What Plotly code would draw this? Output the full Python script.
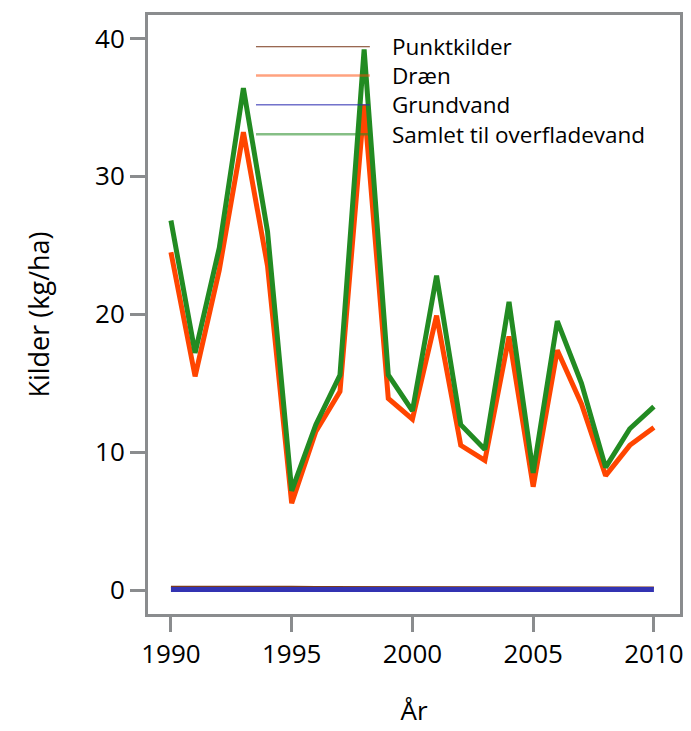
import plotly.graph_objects as go

years = list(range(1990, 2011))

samlet = [26.8, 17.2, 24.8, 36.4, 26.0, 7.2, 12.0, 15.6, 39.2, 15.6, 13.0,
          22.8, 12.0, 10.2, 20.9, 8.5, 19.5, 15.0, 8.9, 11.7, 13.3]
draen = [24.5, 15.5, 23.2, 33.2, 23.5, 6.3, 11.5, 14.4, 35.2, 13.9, 12.4,
         19.9, 10.5, 9.4, 18.4, 7.5, 17.4, 13.5, 8.3, 10.5, 11.8]
punktkilder = [0.25, 0.25, 0.25, 0.25, 0.28, 0.25, 0.22, 0.22, 0.22, 0.22, 0.22,
               0.22, 0.22, 0.2, 0.2, 0.2, 0.22, 0.22, 0.2, 0.2, 0.2]
grundvand = [0.05, 0.05, 0.05, 0.05, 0.06, 0.05, 0.04, 0.03, 0.02, 0.04, 0.05,
             0.05, 0.05, 0.04, 0.04, 0.03, 0.04, 0.04, 0.03, 0.04, 0.04]

series_names = ["Punktkilder", "Dræn", "Grundvand", "Samlet til overfladevand"]

FONT = "Open Sans, Noto Sans, sans-serif"
GRAY = "#8a8c8e"

fig = go.Figure()

# draw order: brown under blue, green on top of orange
traces = [
    (punktkilder, "#7a3a1c", 2),
    (grundvand, "#3333b2", 5),
    (draen, "#ff4500", 5),
    (samlet, "#228b22", 5),
]
for vals, color, w in traces:
    fig.add_trace(
        go.Scatter(
            x=years,
            y=vals,
            mode="lines",
            line=dict(color=color, width=w),
            showlegend=False,
            hoverinfo="skip",
        )
    )

# hand-made legend: short lines + labels in paper coords
legend_style = [
    ("#7a3a1c", 1),
    ("rgba(255,69,0,0.5)", 2.5),
    ("#2a2ab0", 1),
    ("rgba(34,139,34,0.55)", 2.5),
]
legend_y = [0.947, 0.899, 0.850, 0.801]
for name, (color, w), yy in zip(series_names, legend_style, legend_y):
    fig.add_shape(
        type="line", xref="paper", yref="paper",
        x0=0.203, x1=0.417, y0=yy, y1=yy,
        line=dict(color=color, width=w),
    )
    fig.add_annotation(
        x=0.455, y=yy, xref="paper", yref="paper",
        text=name, showarrow=False, xanchor="left", yanchor="middle",
        font=dict(family=FONT, size=22.5, color="black"),
    )

axis_common = dict(
    ticks="outside",
    ticklen=15,
    tickwidth=3,
    tickcolor=GRAY,
    showline=True,
    linecolor=GRAY,
    linewidth=3,
    mirror=True,
    showgrid=False,
    zeroline=False,
    tickfont=dict(size=26),
)

# page body has an 8px default margin, so the figure is shrunk by that much
fig.update_layout(
    width=683,
    height=723,
    margin=dict(l=140, r=11, t=4, b=117),
    paper_bgcolor="white",
    plot_bgcolor="white",
    font=dict(family=FONT, color="black"),
    xaxis=dict(
        range=[1989.05, 2011.08],
        tickvals=[1990, 1995, 2000, 2005, 2010],
        title=dict(text="År", font=dict(size=26), standoff=32),
        **axis_common,
    ),
    yaxis=dict(
        range=[-1.73, 41.7],
        tickvals=[0, 10, 20, 30, 40],
        title=dict(text="Kilder (kg/ha)", font=dict(size=27), standoff=38),
        **axis_common,
    ),
)

fig.write_html("out.html")
